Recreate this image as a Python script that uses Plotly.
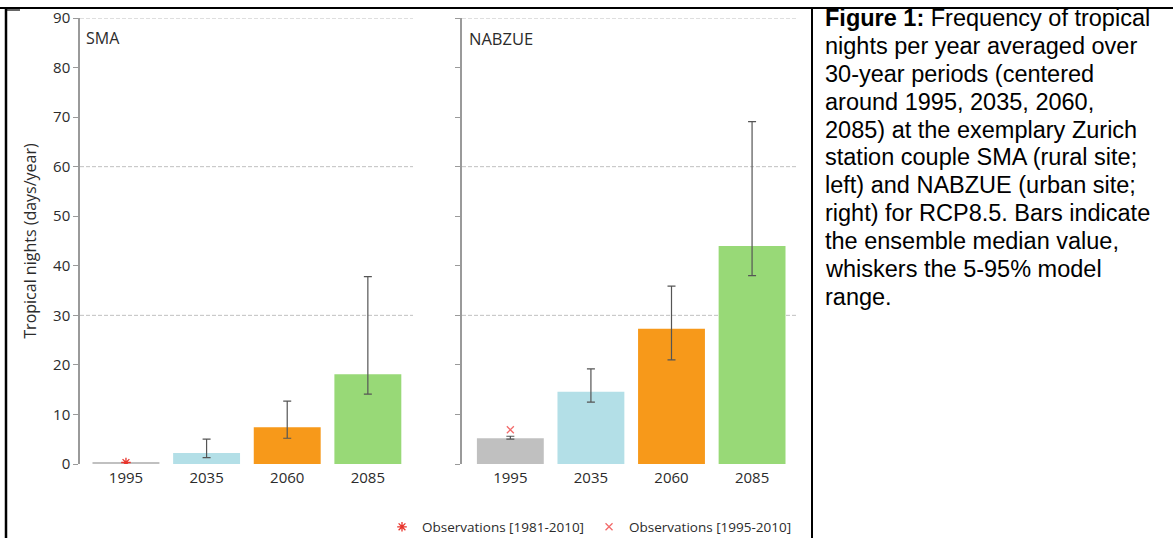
import plotly.graph_objects as go

# 30-year periods (centre years)
periods = ["1995", "2035", "2060", "2085"]

# SMA (rural site): ensemble median and 5-95% model range
sma_median = [0.3, 2.2, 7.4, 18.1]
sma_p05 = [0.3, 1.3, 5.2, 14.1]
sma_p95 = [0.3, 5.0, 12.7, 37.8]

# NABZUE (urban site)
nab_median = [5.2, 14.6, 27.3, 44.0]
nab_p05 = [5.0, 12.5, 21.0, 38.0]
nab_p95 = [5.6, 19.2, 35.9, 69.1]

# Observed tropical nights per year
obs_sma_1981_2010 = [0.3]
obs_nab_1995_2010 = [6.9]

bar_colors = ["#c0c0c0", "#b3dfe7", "#f7991a", "#98d977"]
grid_levels = [30, 60, 90]
y_ticks = [0, 10, 20, 30, 40, 50, 60, 70, 80, 90]

caption_lines = [
    "<b>Figure 1:</b> Frequency of tropical",
    "nights per year averaged over",
    "30-year periods (centered",
    "around 1995, 2035, 2060,",
    "2085) at the exemplary Zurich",
    "station couple SMA (rural site;",
    "left) and NABZUE (urban site;",
    "right) for RCP8.5. Bars indicate",
    "the ensemble median value,",
    "whiskers the 5-95% model",
    "range.",
]

W, H = 1173, 538
FONT = "Open Sans"
TXT = "#2b2b2b"
AXC = "#9a9a9a"


def px_x(v):
    return v / W


def px_y(v):
    return 1 - v / H


def errs(med, lo, hi):
    return [h - m for m, h in zip(med, hi)], [m - l for m, l in zip(med, lo)]


fig = go.Figure()

for med, lo, hi, xa, ya in [
    (sma_median, sma_p05, sma_p95, "x", "y"),
    (nab_median, nab_p05, nab_p95, "x2", "y2"),
]:
    up, down = errs(med, lo, hi)
    fig.add_trace(go.Bar(
        x=periods, y=med, xaxis=xa, yaxis=ya,
        marker=dict(color=bar_colors, line=dict(width=0)),
        width=0.83, showlegend=False,
        error_y=dict(type="data", array=up, arrayminus=down, symmetric=False,
                     color="#555555", thickness=1.2, width=4),
    ))

fig.add_trace(go.Scatter(
    x=[periods[0]], y=obs_sma_1981_2010, xaxis="x", yaxis="y", mode="markers",
    marker=dict(symbol="asterisk-open", size=8, color="#e8342c",
                line=dict(color="#e8342c", width=1.3)),
    name="Observations [1981-2010]",
))
fig.add_trace(go.Scatter(
    x=[periods[0]], y=obs_nab_1995_2010, xaxis="x2", yaxis="y2", mode="markers",
    marker=dict(symbol="x-thin-open", size=7, color="#f26a6a",
                line=dict(color="#f26a6a", width=1.3)),
    name="Observations [1995-2010]",
))

y_dom = [px_y(464), px_y(18)]
yax = dict(range=[0, 90], tickvals=y_ticks, showline=True, linecolor=AXC,
           linewidth=1.5, ticks="outside", ticklen=5, tickcolor=AXC,
           tickwidth=1, showgrid=False, zeroline=False, domain=y_dom,
           automargin=False,
           tickfont=dict(family=FONT, size=15, color=TXT))
xax = dict(type="category", showline=False, ticks="", showgrid=False,
           zeroline=False, automargin=False,
           tickfont=dict(family=FONT, size=15, color=TXT),
           ticklabelstandoff=3)

fig.update_layout(
    width=W, height=H, margin=dict(l=0, r=0, t=0, b=0, autoexpand=False),
    paper_bgcolor="white", plot_bgcolor="rgba(0,0,0,0)",
    xaxis=dict(xax, domain=[px_x(80), px_x(413)], range=[-0.57, 3.56], anchor="y"),
    yaxis=dict(yax, anchor="x",
               title=dict(text="Tropical nights (days/year)", standoff=12,
                          font=dict(family=FONT, size=16, color=TXT))),
    xaxis2=dict(xax, domain=[px_x(462), px_x(798)], range=[-0.6, 3.57], anchor="y2"),
    yaxis2=dict(yax, anchor="x2", showticklabels=False),
    legend=dict(orientation="h", x=px_x(797), y=px_y(527), xanchor="right",
                yanchor="middle", bgcolor="rgba(0,0,0,0)",
                font=dict(family=FONT, size=13.5, color=TXT),
                itemwidth=30, tracegroupgap=0),
)

# dashed reference lines
for xr, yr in [("x domain", "y"), ("x2 domain", "y2")]:
    for g in grid_levels:
        fig.add_shape(type="line", xref=xr, yref=yr, x0=0, x1=1, y0=g, y1=g,
                      line=dict(color="#c0c0c0", width=1, dash="4px,2px"),
                      layer="below")

# panel labels
fig.add_annotation(text="SMA", xref="paper", yref="paper", x=px_x(84), y=px_y(38),
                   xanchor="left", yanchor="middle", showarrow=False,
                   font=dict(family=FONT, size=16, color=TXT))
fig.add_annotation(text="NABZUE", xref="paper", yref="paper", x=px_x(467), y=px_y(38),
                   xanchor="left", yanchor="middle", showarrow=False,
                   font=dict(family=FONT, size=16.5, color=TXT))

# caption column
for i, line in enumerate(caption_lines):
    fig.add_annotation(text=line, xref="paper", yref="paper", x=px_x(823),
                       y=px_y(18 + i * 27.9), xanchor="left", yanchor="middle",
                       showarrow=False,
                       font=dict(family="Liberation Sans, Arial", size=23.5,
                                 color="#000000"))

# table borders
borders = [
    (0, 8, W, 8, 2),
    (6, 8, 6, H, 2.5),
    (812, 9, 812, H, 2),
    (7, 10, 20, 10, 1.2),
]
for x0, y0, x1, y1, w in borders:
    fig.add_shape(type="line", xref="paper", yref="paper",
                  x0=px_x(x0), y0=px_y(y0), x1=px_x(x1), y1=px_y(y1),
                  line=dict(color="#000000", width=w))

fig.write_html("out.html")
